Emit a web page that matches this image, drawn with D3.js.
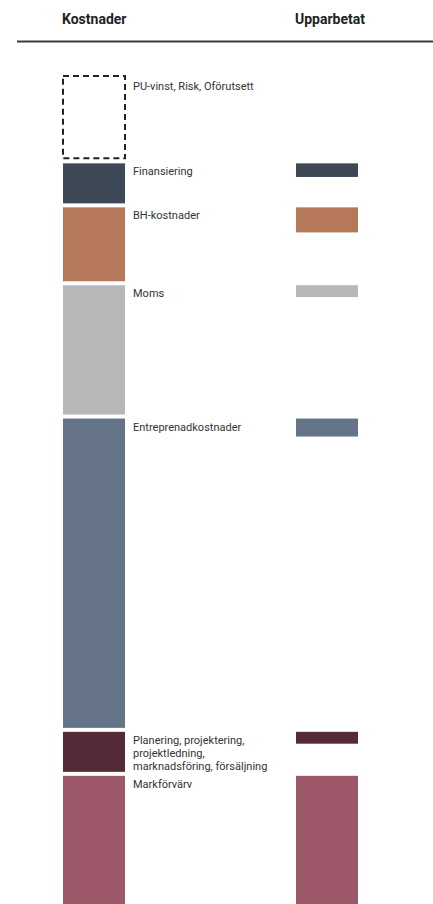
<!DOCTYPE html>
<html>
<head>
<meta charset="utf-8">
<script src="https://cdn.jsdelivr.net/npm/d3@7"></script>
<style>
  html, body { margin: 0; padding: 0; background: #fff; overflow: hidden; }
  svg { display: block; font-family: Roboto, "Noto Sans", sans-serif; }
</style>
</head>
<body>
<svg id="chart" width="433" height="904"></svg>
<script>
// Data (top-down stack order)
const categories = ["PU-vinst, Risk, Oförutsett", "Finansiering", "BH-kostnader", "Moms",
  "Entreprenadkostnader", "Planering, projektering, projektledning, marknadsföring, försäljning", "Markförvärv"];
const kostnader = [19.4, 10, 17.7, 30.3, 71.2, 10, 40];
const upparbetat = [0, 4, 6.6, 3.6, 5, 3.6, 40];
const colors = ["none", "#3d4956", "#b5795a", "#b6b7b9", "#657489", "#532a36", "#9d5969"];
const headers = ["Kostnader", "Upparbetat"];

const svg = d3.select("#chart");
const W = 433, H = 904;
const gap = 4;
const colX = [63, 296], barW = 62;

// starts of each segment in the stacked column
const starts = [];
kostnader.reduce((acc, v, i) => { starts[i] = acc; return acc + v; }, 0);
const total = d3.sum(kostnader);

const y = d3.scaleLinear().domain([0, total]).range([76, 76 + total * 4.4]);
const h = v => y(v) - y(0);

// headers
svg.selectAll("text.header").data(headers).join("text")
  .attr("class", "header")
  .attr("x", (d, i) => colX[i] - 1)
  .attr("y", 24)
  .attr("font-size", 14)
  .attr("font-weight", 700)
  .attr("fill", "#222")
  .text(d => d);

svg.append("line")
  .attr("x1", 17).attr("x2", W)
  .attr("y1", 41.5).attr("y2", 41.5)
  .attr("stroke", "#3a3a3a").attr("stroke-width", 2);

const rows = categories.map((c, i) => ({ c, i, k: kostnader[i], u: upparbetat[i], s: starts[i], col: colors[i] }));

// left column (Kostnader)
svg.selectAll("rect.k").data(rows).join("rect")
  .attr("class", "k")
  .attr("x", colX[0])
  .attr("y", d => y(d.s) + (d.i === 0 ? 0 : gap / 2))
  .attr("width", barW)
  .attr("height", d => d.i === 0 ? h(d.k) - gap / 2 - 1 : Math.max(0, h(d.k) - gap))
  .attr("fill", d => d.col)
  .attr("stroke", d => d.i === 0 ? "#222" : "none")
  .attr("stroke-width", 2)
  .attr("stroke-dasharray", d => d.i === 0 ? "6,4" : null);

// right column (Upparbetat)
svg.selectAll("rect.u").data(rows.filter(d => d.u > 0)).join("rect")
  .attr("class", "u")
  .attr("x", colX[1])
  .attr("y", d => y(d.s) + gap / 2)
  .attr("width", barW)
  .attr("height", d => Math.max(0, h(d.u) - gap))
  .attr("fill", d => d.col);

// labels with wrapping
const wrapW = 150;
const labels = svg.selectAll("text.lbl").data(rows).join("text")
  .attr("class", "lbl")
  .attr("x", 133)
  .attr("y", d => y(d.s) + 14)
  .attr("font-size", 11)
  .attr("fill", "#333");

labels.each(function(d) {
  const t = d3.select(this);
  const words = d.c.split(" ");
  let line = [];
  let tspan = t.append("tspan").attr("x", 133).attr("dy", 0);
  words.forEach(w => {
    line.push(w);
    tspan.text(line.join(" "));
    if (tspan.node().getComputedTextLength() > wrapW && line.length > 1) {
      line.pop();
      tspan.text(line.join(" "));
      line = [w];
      tspan = t.append("tspan").attr("x", 133).attr("dy", 13).text(w);
    }
  });
});
</script>
</body>
</html>
